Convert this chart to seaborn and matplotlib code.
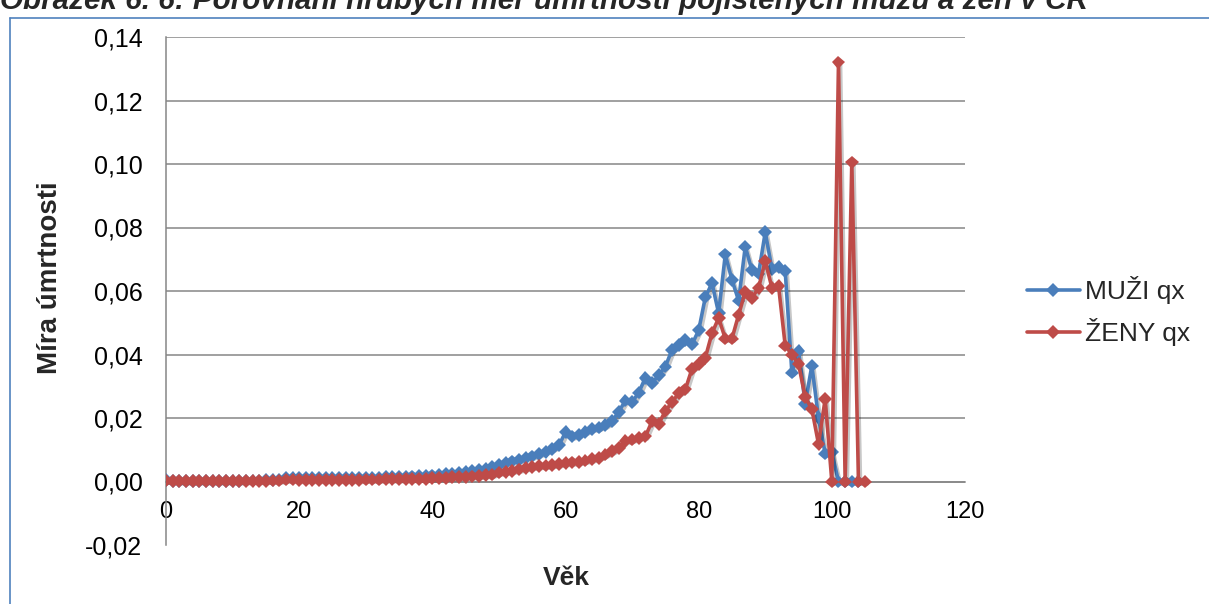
import matplotlib
matplotlib.use("Agg")
import matplotlib.pyplot as plt
import matplotlib.patheffects as pe
from matplotlib.lines import Line2D
import numpy as np
import pandas as pd
import seaborn as sns

# ---------------- data ----------------
ages_muzi = list(range(0, 105))
muzi_qx = [
    # 0-17
    0.0004, 0.0002, 0.0002, 0.0002, 0.0001, 0.0002, 0.0002, 0.0001, 0.0002, 0.0002,
    0.0002, 0.0002, 0.0003, 0.0003, 0.0003, 0.0004, 0.0005, 0.0006,
    # 18-29
    0.0010, 0.0011, 0.0011, 0.0010, 0.0011, 0.0010, 0.0010, 0.0011, 0.0010, 0.0010,
    0.0011, 0.0011,
    # 30-39
    0.0011, 0.0012, 0.0012, 0.0013, 0.0013, 0.0014, 0.0015, 0.0016, 0.0017, 0.0018,
    # 40-49
    0.0019, 0.0021, 0.0023, 0.0025, 0.0027, 0.0030, 0.0033, 0.0036, 0.0040, 0.0045,
    # 50-59
    0.0052, 0.0058, 0.0063, 0.0068, 0.0073, 0.0079, 0.0086, 0.0094, 0.0103, 0.0114,
    # 60-69
    0.0155, 0.0142, 0.0147, 0.0157, 0.0166, 0.0170, 0.0177, 0.0190, 0.0220, 0.0255,
    # 70-79
    0.0250, 0.0280, 0.0327, 0.0310, 0.0335, 0.0362, 0.0415, 0.0430, 0.0445, 0.0432,
    # 80-89
    0.0476, 0.0580, 0.0625, 0.0530, 0.0715, 0.0635, 0.0570, 0.0740, 0.0665, 0.0655,
    # 90-99
    0.0785, 0.0670, 0.0675, 0.0662, 0.0343, 0.0412, 0.0245, 0.0365, 0.0200, 0.0088,
    # 100-104
    0.0092, 0.0, 0.0, 0.0, 0.0,
]

ages_zeny = list(range(0, 106))
zeny_qx = [
    # 0-17
    0.0003, 0.0002, 0.0001, 0.0001, 0.0001, 0.0001, 0.0001, 0.0001, 0.0001, 0.0001,
    0.0001, 0.0001, 0.0001, 0.0002, 0.0002, 0.0002, 0.0003, 0.0003,
    # 18-29
    0.0006, 0.0006, 0.0005, 0.0005, 0.0005, 0.0005, 0.0005, 0.0005, 0.0005, 0.0005,
    0.0005, 0.0005,
    # 30-39
    0.0006, 0.0006, 0.0006, 0.0007, 0.0007, 0.0007, 0.0008, 0.0008, 0.0009, 0.0009,
    # 40-49
    0.0010, 0.0011, 0.0012, 0.0013, 0.0014, 0.0015, 0.0016, 0.0018, 0.0020, 0.0022,
    # 50-59
    0.0028, 0.0031, 0.0034, 0.0038, 0.0042, 0.0046, 0.0049, 0.0050, 0.0052, 0.0055,
    # 60-69
    0.0058, 0.0060, 0.0062, 0.0066, 0.0070, 0.0075, 0.0085, 0.0095, 0.0105, 0.0128,
    # 70-79
    0.0132, 0.0138, 0.0142, 0.0190, 0.0182, 0.0222, 0.0250, 0.0278, 0.0290, 0.0355,
    # 80-89
    0.0370, 0.0390, 0.0467, 0.0515, 0.0450, 0.0450, 0.0525, 0.0598, 0.0578, 0.0610,
    # 90-99
    0.0695, 0.0610, 0.0615, 0.0428, 0.0400, 0.0370, 0.0265, 0.0228, 0.0118, 0.0260,
    # 100-105
    0.0, 0.1320, 0.0, 0.1005, 0.0, 0.0,
]

series_names = ["MUŽI qx", "ŽENY qx"]
series_colors = ["#4A7EBB", "#BE4B48"]

x_ticks = [0, 20, 40, 60, 80, 100, 120]
y_ticks = [-0.02, 0.00, 0.02, 0.04, 0.06, 0.08, 0.10, 0.12, 0.14]
y_tick_labels = ["-0,02", "0,00", "0,02", "0,04", "0,06", "0,08", "0,10", "0,12", "0,14"]

title_text = "Obrázek 6. 6: Porovnání hrubých měr úmrtnosti pojištěných mužů a žen v ČR"
x_label = "Věk"
y_label = "Míra úmrtnosti"

# ---------------- figure ----------------
sns.set_theme(style="white")
plt.rcParams["font.family"] = ["Liberation Sans", "DejaVu Sans"]

W, H = 1209, 604
fig = plt.figure(figsize=(W / 100, H / 100), dpi=100)
ax = fig.add_axes([166 / W, 1 - 545 / H, (965 - 166) / W, (545 - 37) / H])

df = pd.concat([
    pd.DataFrame({"Věk": ages_muzi, "qx": muzi_qx, "serie": series_names[0]}),
    pd.DataFrame({"Věk": ages_zeny, "qx": zeny_qx, "serie": series_names[1]}),
], ignore_index=True)

shadow = [pe.SimpleLineShadow(offset=(1.5, -1.8), shadow_color="black", alpha=0.22),
          pe.Normal()]

LW, MS = 2.6, 7
for name, color in zip(series_names, series_colors):
    sub = df[df["serie"] == name]
    sns.lineplot(data=sub, x="Věk", y="qx", ax=ax, color=color, linewidth=LW,
                 marker="D", markersize=MS, markeredgewidth=0,
                 estimator=None, sort=False, legend=False,
                 path_effects=shadow, zorder=3)

ax.set_xlim(0, 120)
ax.set_ylim(-0.02, 0.14)
ax.set_xticks(x_ticks)
ax.set_xticklabels([str(t) for t in x_ticks])
ax.set_yticks(y_ticks)
ax.set_yticklabels(y_tick_labels)

grid_color = "#868686"
ax.yaxis.grid(True, color=grid_color, linewidth=1.1)
ax.get_ygridlines()[0].set_visible(False)
ax.set_axisbelow(True)

for s in ["top", "right"]:
    ax.spines[s].set_visible(False)
ax.spines["bottom"].set_position(("data", 0))
ax.spines["bottom"].set_color(grid_color)
ax.spines["bottom"].set_linewidth(1.1)
ax.spines["left"].set_color(grid_color)
ax.spines["left"].set_linewidth(1.1)

ax.tick_params(axis="x", direction="out", length=4, width=1.1, color=grid_color,
               pad=10, labelsize=17, labelcolor="black")
ax.tick_params(axis="y", length=0, pad=17, labelsize=18, labelcolor="black")

ax.set_xlabel("")
ax.set_ylabel("")
fig.text(566 / W, 1 - 578 / H, x_label, ha="center", va="center",
         fontsize=19, fontweight="bold")
fig.text(50 / W, 1 - 278 / H, y_label, ha="center", va="center",
         rotation=90, fontsize=20, fontweight="bold")

# legend
handles = [Line2D([0], [0], color=c, linewidth=LW, marker="D", markersize=MS,
                  markeredgewidth=0) for c in series_colors]
fig.legend(handles, series_names, loc="center left",
           bbox_to_anchor=(1027 / W, 1 - 311 / H), frameon=False,
           fontsize=19, handlelength=2.0, handletextpad=0.2,
           labelspacing=0.55, borderpad=0, borderaxespad=0)

# cut-off caption above and the blue frame
fig.text(0.0, 1 - 9 / H, title_text, ha="left", va="baseline",
         fontsize=21.3, fontweight="bold", style="italic")
frame_color = "#4F81BD"
fig.add_artist(Line2D([10 / W, 10 / W], [0, 1 - 18 / H], transform=fig.transFigure,
                      color=frame_color, linewidth=1.2))
fig.add_artist(Line2D([10 / W, 1], [1 - 18 / H, 1 - 18 / H], transform=fig.transFigure,
                      color=frame_color, linewidth=1.2))

fig.savefig("out.png", dpi=100)
